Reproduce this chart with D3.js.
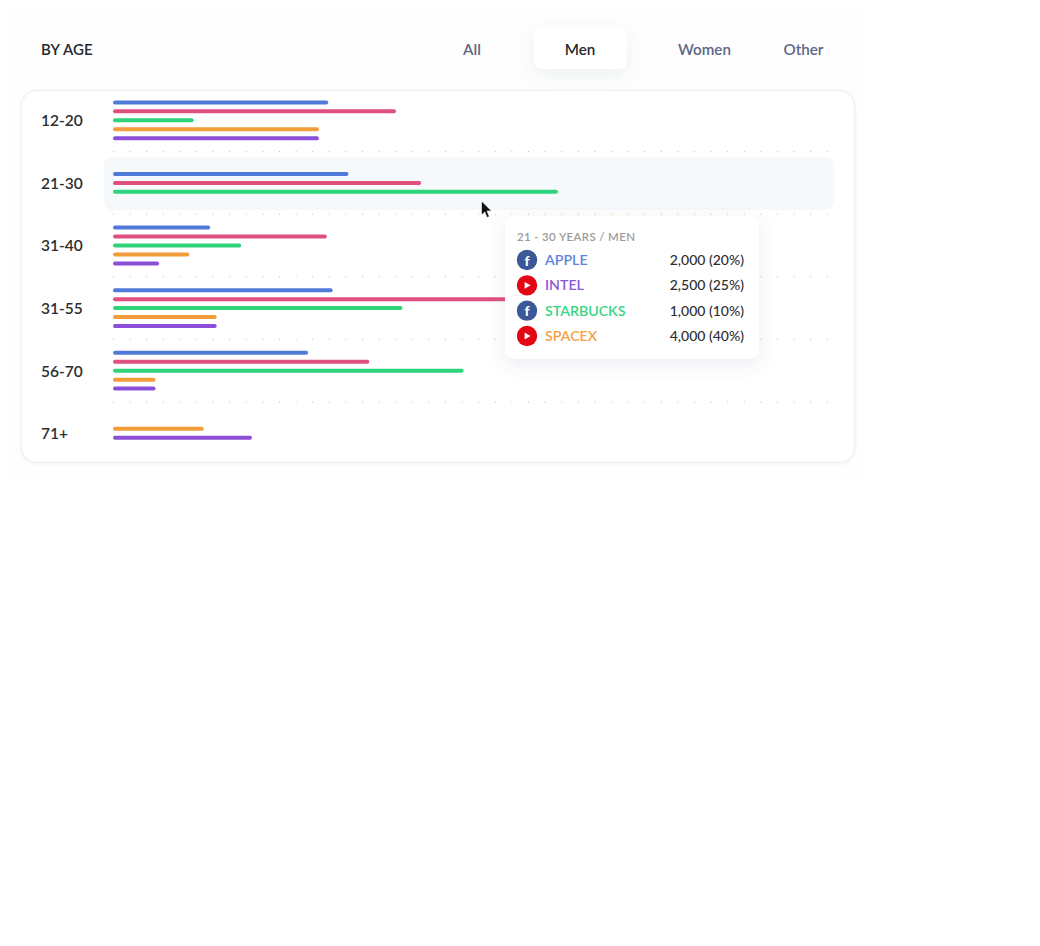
<!DOCTYPE html>
<html>
<head>
<meta charset="utf-8">
<script src="https://cdn.jsdelivr.net/npm/d3@7"></script>
<style>
html, body { margin: 0; padding: 0; background: #fff; }
svg { display: block; }
text { font-family: Lato, "Open Sans", sans-serif; }
</style>
</head>
<body>
<svg id="chart" width="1040" height="946"></svg>
<script>
var ages = ["12-20", "21-30", "31-40", "31-55", "56-70", "71+"]
var brands = ["apple", "intel", "starbucks", "spacex", "other"]
var colorList = ["#4f7ad8", "#e0507f", "#2dd47a", "#f29c3a", "#8a4fd6"]

// share of the row width (null = no bar)
var appleValues = [29.9, 32.7, 13.5, 30.5, 27.1, null]
var intelValues = [39.3, 42.8, 29.7, 70, 35.6, null]
var starbucksValues = [11.2, 61.8, 17.8, 40.2, 48.7, null]
var spacexValues = [28.6, null, 10.6, 14.4, 5.9, 12.6]
var otherValues = [28.6, null, 6.4, 14.4, 5.9, 19.3]
var seriesValues = [appleValues, intelValues, starbucksValues, spacexValues, otherValues]

var tabs = ["All", "Men", "Women", "Other"]
var tabCenters = [472, 580, 704.5, 803.5]
var activeTab = "Men"
var activeAge = "21-30"

var tipTitle = "21 - 30 YEARS / MEN"
var tipNames = ["APPLE", "INTEL", "STARBUCKS", "SPACEX"]
var tipColors = ["#5b84dc", "#8f55d8", "#35d683", "#f3a144"]
var tipValues = ["2,000 (20%)", "2,500 (25%)", "1,000 (10%)", "4,000 (40%)"]
var tipIcons = ["f", "y", "f", "y"]

var svg = d3.select("#chart")

var defs = svg.append("defs")
var addShadow = function(id, dy, blur, op) {
    var f = defs.append("filter").attr("id", id)
        .attr("x", "-30%").attr("y", "-40%").attr("width", "160%").attr("height", "190%")
    f.append("feDropShadow")
        .attr("dx", 0).attr("dy", dy)
        .attr("stdDeviation", blur)
        .attr("flood-color", "#5a6a8a")
        .attr("flood-opacity", op)
}
addShadow("tabShadow", 6, 9, 0.10)
addShadow("tipShadow", 5, 9, 0.12)
addShadow("cardShadow", 1, 1.5, 0.07)

var x = d3.scaleLinear().domain([0, 100]).range([113, 833])
var y = d3.scaleBand().domain(ages).range([89, 464.6])
var color = d3.scaleOrdinal().domain(brands).range(colorList)
var slot = 8.95

// outer panel
svg.append("rect").attr("x", 7).attr("y", 8).attr("width", 859).attr("height", 474)
    .attr("rx", 6).attr("fill", "#fdfefd")

// header
svg.append("text").attr("x", 41).attr("y", 49.5).attr("dy", "0.35em")
    .attr("font-size", 15).attr("font-weight", 600).attr("fill", "#26282c")
    .attr("letter-spacing", 0.1)
    .text("BY AGE")

svg.append("rect").attr("x", 534).attr("y", 28).attr("width", 93).attr("height", 41)
    .attr("rx", 8).attr("fill", "#fff").attr("filter", "url(#tabShadow)")

svg.selectAll(".tab").data(tabs).enter().append("text")
    .attr("class", "tab")
    .attr("x", function(d, i) { return tabCenters[i] })
    .attr("y", 49.5).attr("dy", "0.35em")
    .attr("text-anchor", "middle")
    .attr("font-size", 15.2).attr("font-weight", 600)
    .attr("fill", function(d) { return d == activeTab ? "#26282c" : "#5d6684" })
    .text(function(d) { return d })

// card
svg.append("rect").attr("x", 21.5).attr("y", 90.5).attr("width", 833).attr("height", 372)
    .attr("rx", 15).attr("fill", "#fff").attr("stroke", "#f0f1f3").attr("stroke-width", 1.5)
    .attr("filter", "url(#cardShadow)")

// highlighted row
svg.append("rect")
    .attr("x", 104).attr("width", 730)
    .attr("y", 157).attr("height", y.bandwidth() - 9.6)
    .attr("rx", 8).attr("fill", "#f5f9fc")

// dotted separators
svg.selectAll(".sep").data(ages.slice(1)).enter().append("line")
    .attr("class", "sep")
    .attr("x1", x(0)).attr("x2", 830)
    .attr("y1", function(d) { return y(d) }).attr("y2", function(d) { return y(d) })
    .attr("stroke", "#b9bcc0").attr("stroke-width", 1)
    .attr("stroke-dasharray", "1 15.6")

// age labels
svg.selectAll(".age").data(ages).enter().append("text")
    .attr("class", "age")
    .attr("x", 41)
    .attr("y", function(d) { return y(d) + y.bandwidth() / 2 + 0.5 })
    .attr("dy", "0.35em")
    .attr("font-size", 15.5).attr("font-weight", 600).attr("fill", "#2c2e32")
    .text(function(d) { return d })

// bars, centred on each row
var rows = svg.selectAll(".row").data(ages).enter().append("g")
    .attr("class", "row")
    .attr("transform", function(d) { return "translate(0," + (y(d) + y.bandwidth() / 2) + ")" })

rows.each(function(age, r) {
    var items = brands.map(function(b, s) {
        return { brand: b, value: seriesValues[s][r] }
    }).filter(function(d) { return d.value != null })
    d3.select(this).selectAll("rect").data(items).enter().append("rect")
        .attr("x", x(0))
        .attr("y", function(d, i) { return (i - (items.length - 1) / 2) * slot - 2 })
        .attr("width", function(d) { return x(d.value) - x(0) })
        .attr("height", 4)
        .attr("rx", 2)
        .attr("fill", function(d) { return color(d.brand) })
})

// cursor
svg.append("path")
    .attr("d", "M481.5 201 L481.5 215 L484.8 212 L487 217.5 L489.3 216.5 L487 211 L491.5 211 Z")
    .attr("fill", "#111").attr("stroke", "#fff").attr("stroke-width", 0.6)

// tooltip
var tip = svg.append("g").attr("transform", "translate(505,216)")
tip.append("rect").attr("width", 254).attr("height", 143).attr("rx", 10)
    .attr("fill", "#fff").attr("filter", "url(#tipShadow)")
tip.append("text").attr("x", 12).attr("y", 20.5).attr("dy", "0.35em")
    .attr("font-size", 11.5).attr("font-weight", 600)
    .attr("letter-spacing", 0.35).attr("fill", "#9b9b9b")
    .text(tipTitle)

var tipY = d3.scalePoint().domain(tipNames).range([44, 120])
var tipRows = tip.selectAll(".tipRow").data(tipNames).enter().append("g")
    .attr("class", "tipRow")
    .attr("transform", function(d) { return "translate(0," + tipY(d) + ")" })

tipRows.append("circle").attr("cx", 22).attr("r", 10.2)
    .attr("fill", function(d, i) { return tipIcons[i] == "f" ? "#3b5998" : "#e30613" })
tipRows.each(function(d, i) {
    var g = d3.select(this)
    if (tipIcons[i] == "f") {
        g.append("text").attr("x", 22).attr("y", 0.5).attr("dy", "0.38em")
            .attr("text-anchor", "middle").attr("font-size", 14).attr("font-weight", 900)
            .attr("fill", "#fff").text("f")
    } else {
        g.append("path").attr("d", "M19.6 -3.4 L25.6 0 L19.6 3.4 Z").attr("fill", "#fff")
    }
})
tipRows.append("text").attr("x", 40).attr("dy", "0.35em")
    .attr("font-size", 14.2).attr("font-weight", 600)
    .attr("fill", function(d, i) { return tipColors[i] })
    .text(function(d) { return d })
tipRows.append("text").attr("x", 239).attr("dy", "0.35em")
    .attr("text-anchor", "end")
    .attr("font-size", 14).attr("font-weight", 500).attr("fill", "#2c2e32")
    .text(function(d, i) { return tipValues[i] })
</script>
</body>
</html>
